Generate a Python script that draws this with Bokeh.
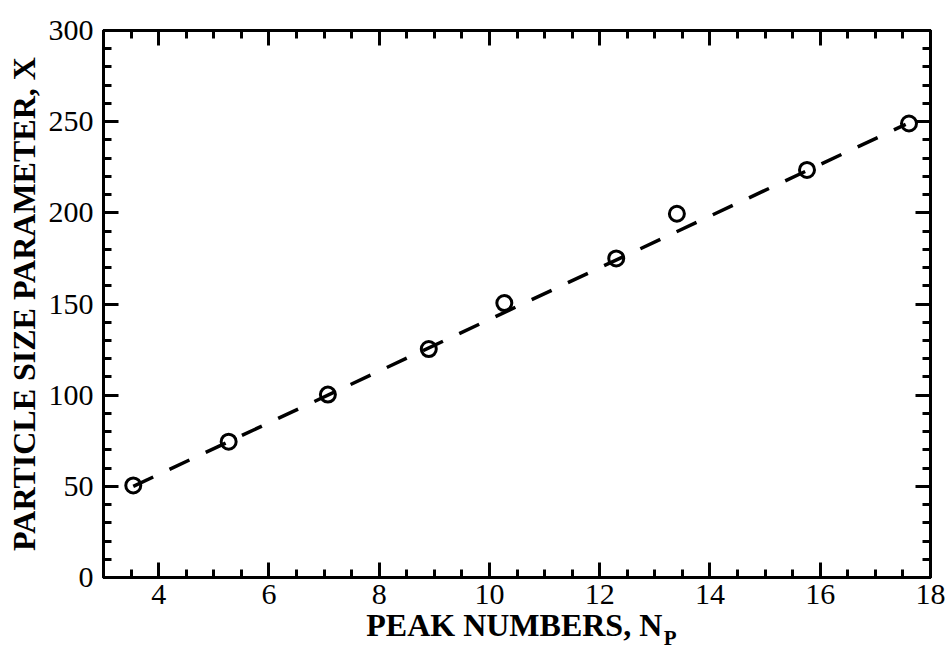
import numpy as np
from bokeh.plotting import figure
from bokeh.models import Range1d, FixedTicker, LinearAxis
from bokeh.embed import file_html
from bokeh.resources import INLINE

# data
peak_numbers = [3.54, 5.27, 7.07, 8.90, 10.27, 12.30, 13.40, 15.76, 17.61]
size_param = [50.5, 74.5, 100.3, 125.3, 150.5, 175.0, 199.5, 223.5, 249.0]
fit_x = [3.54, 17.55]
fit_y = [50.0, 248.5]

x_major = [4, 6, 8, 10, 12, 14, 16, 18]
x_minor = list(np.arange(3.0, 18.01, 0.5))
y_major = [0, 50, 100, 150, 200, 250, 300]
y_minor = list(range(0, 301, 10))

x_title = "PEAK NUMBERS, N"
x_title_sub = "P"
y_title = "PARTICLE SIZE PARAMETER, X"

SERIF = "Liberation Serif"

p = figure(width=950, height=652, x_range=Range1d(3, 18), y_range=Range1d(0, 300),
           output_backend="svg", toolbar_location=None,
           min_border_left=103, min_border_right=20, min_border_top=30, min_border_bottom=72)
p.background_fill_color = "white"
p.border_fill_color = "white"
p.xgrid.grid_line_color = None
p.ygrid.grid_line_color = None
p.outline_line_color = "black"
p.outline_line_width = 3

bottom_ax = p.below[0]
left_ax = p.left[0]
top_ax = LinearAxis()
right_ax = LinearAxis()
p.add_layout(top_ax, "above")
p.add_layout(right_ax, "right")

for ax in (bottom_ax, top_ax):
    ax.ticker = FixedTicker(ticks=x_major, minor_ticks=x_minor)
for ax in (left_ax, right_ax):
    ax.ticker = FixedTicker(ticks=y_major, minor_ticks=y_minor)

for ax in (bottom_ax, top_ax, left_ax, right_ax):
    ax.axis_line_color = "black"
    ax.axis_line_width = 3
    ax.major_tick_in = 15
    ax.major_tick_out = 0
    ax.minor_tick_in = 8
    ax.minor_tick_out = 0
    ax.major_tick_line_width = 3
    ax.minor_tick_line_width = 3
    ax.major_tick_line_color = "black"
    ax.minor_tick_line_color = "black"
    ax.major_label_text_font = SERIF
    ax.major_label_text_color = "black"
    ax.major_label_text_font_size = "30px"
    ax.axis_label_text_font = SERIF
    ax.axis_label_text_font_style = "bold"
    ax.axis_label_text_color = "black"

bottom_ax.major_label_standoff = 7
left_ax.major_label_standoff = 10
for ax in (top_ax, right_ax):
    ax.major_label_text_color = None
    ax.major_label_standoff = 0

left_ax.axis_label = y_title
left_ax.axis_label_text_font_size = "32px"
left_ax.axis_label_standoff = 4

# x title (with its subscript) drawn as labels of tick-less axes stacked below the main one
title_x = 10.45
sub_x = 13.28
title_ax = LinearAxis(ticker=FixedTicker(ticks=[title_x], minor_ticks=[]),
                      major_label_overrides={title_x: x_title})
sub_ax = LinearAxis(ticker=FixedTicker(ticks=[sub_x], minor_ticks=[]),
                    major_label_overrides={sub_x: x_title_sub})
for ax, size, standoff in ((title_ax, "32px", 0), (sub_ax, "21px", -20)):
    ax.axis_line_color = None
    ax.major_tick_line_color = None
    ax.minor_tick_line_color = None
    ax.major_tick_in = 0
    ax.major_tick_out = 0
    ax.minor_tick_in = 0
    ax.minor_tick_out = 0
    ax.major_label_text_font = SERIF
    ax.major_label_text_font_style = "bold"
    ax.major_label_text_color = "black"
    ax.major_label_text_font_size = size
    ax.major_label_standoff = standoff
    p.add_layout(ax, "below")

# fitted dashed line
p.line(fit_x, fit_y, line_color="black", line_width=3.5, line_dash="22 18")
# data circles
p.scatter(peak_numbers, size_param, marker="circle", size=15, fill_color=None,
          line_color="black", line_width=3)

open("out.html", "w").write(file_html(p, INLINE))
